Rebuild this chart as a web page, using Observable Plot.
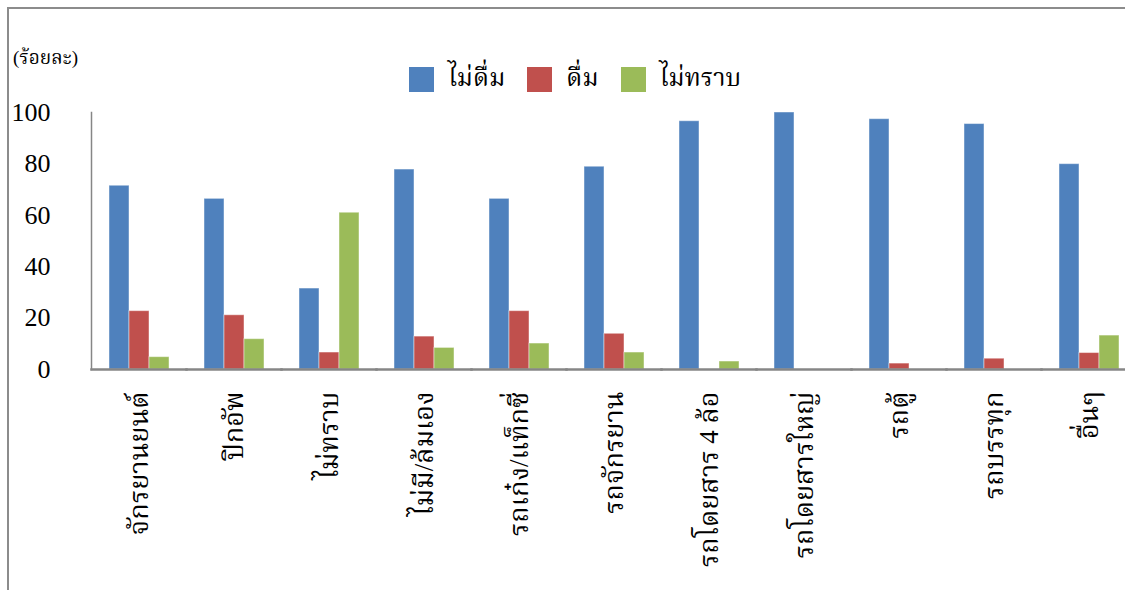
<!DOCTYPE html>
<html>
<head>
<meta charset="utf-8">
<script src="https://cdn.jsdelivr.net/npm/d3@7"></script>
<script src="https://cdn.jsdelivr.net/npm/@observablehq/plot@0.6"></script>
<style>
  html, body { margin: 0; padding: 0; background: #fff; }
  #wrap { position: relative; width: 1125px; height: 590px; overflow: hidden; font-family: "Times New Roman", "Liberation Serif", "Norasi", "Noto Serif Thai", "DejaVu Serif", serif; }
  #border { position: absolute; left: 7px; top: 7px; width: 1200px; height: 700px; border-left: 2px solid #8c8c8c; border-top: 2px solid #8c8c8c; }
  #ylab { position: absolute; left: 13px; top: 44px; font-size: 19px; color: #000; }
  #legend { position: absolute; left: 409px; top: 59px; display: flex; align-items: center; font-size: 25px; color: #000; }
  #legend .sw { width: 25px; height: 25px; display: inline-block; }
  #legend .lab { margin-left: 14px; margin-right: 22px; }
  #chart { position: absolute; left: 0; top: 0; }
  #chart svg text { font-family: "Times New Roman", "Liberation Serif", "Norasi", "Noto Serif Thai", "DejaVu Serif", serif; }
</style>
</head>
<body>
<div id="wrap">
  <div id="chart"></div>
  <div id="border"></div>
  <div id="ylab">(ร้อยละ)</div>
  <div id="legend"></div>
</div>
<script>
const categories = ["จักรยานยนต์", "ปิกอัพ", "ไม่ทราบ", "ไม่มี/ล้มเอง", "รถเก๋ง/แท็กซี่", "รถจักรยาน", "รถโดยสาร 4 ล้อ", "รถโดยสารใหญ่", "รถตู้", "รถบรรทุก", "อื่นๆ"];
const seriesNames = ["ไม่ดื่ม", "ดื่ม", "ไม่ทราบ"];
const seriesColors = ["#4F81BD", "#C0504D", "#9BBB59"];
const notDrinking = [71.5, 66.4, 31.5, 77.8, 66.4, 78.9, 96.6, 100, 97.4, 95.5, 79.9];
const drinking = [22.7, 21.1, 6.6, 12.8, 22.7, 13.9, 0, 0, 2.3, 4.2, 6.4];
const unknown = [4.8, 11.8, 61.0, 8.4, 10.1, 6.6, 3.1, 0, 0, 0, 13.2];
const yTicks = [0, 20, 40, 60, 80, 100];

const seriesValues = [notDrinking, drinking, unknown];
const data = [];
categories.forEach((c, i) => {
  seriesNames.forEach((s, j) => {
    data.push({category: c, series: s, value: seriesValues[j][i]});
  });
});

const chart = Plot.plot({
  width: 1125,
  height: 590,
  marginTop: 112,
  marginBottom: 221,
  marginLeft: 91,
  marginRight: -11,
  style: {fontFamily: "Times New Roman, Liberation Serif, serif", background: "transparent", color: "#000"},
  fx: {domain: categories, padding: 0, label: null},
  x: {domain: seriesNames, paddingInner: 0, paddingOuter: 0.762, axis: null},
  y: {domain: [0, 100], label: null},
  color: {domain: seriesNames, range: seriesColors},
  marks: [
    Plot.barY(data, {fx: "category", x: "series", y: "value", fill: "series", inset: 0, stroke: "#ffffff", strokeOpacity: 0.45, strokeWidth: 1}),
    Plot.frame({anchor: "left", facetAnchor: "left", stroke: "#868686", strokeWidth: 1.5}),
    Plot.frame({anchor: "bottom", stroke: "#868686", strokeWidth: 2.5}),
    Plot.axisY({ticks: yTicks, tickSize: 0, tickPadding: 41, fontSize: 26, label: null}),
    Plot.axisFx({anchor: "bottom", tickRotate: -90, tickSize: 0, tickPadding: 22, fontSize: 27, label: null})
  ]
});
document.getElementById("chart").appendChild(chart);

const legend = document.getElementById("legend");
seriesNames.forEach((s, j) => {
  const sw = document.createElement("span");
  sw.className = "sw";
  sw.style.background = seriesColors[j];
  const lab = document.createElement("span");
  lab.className = "lab";
  lab.textContent = s;
  legend.appendChild(sw);
  legend.appendChild(lab);
});
</script>
</body>
</html>
